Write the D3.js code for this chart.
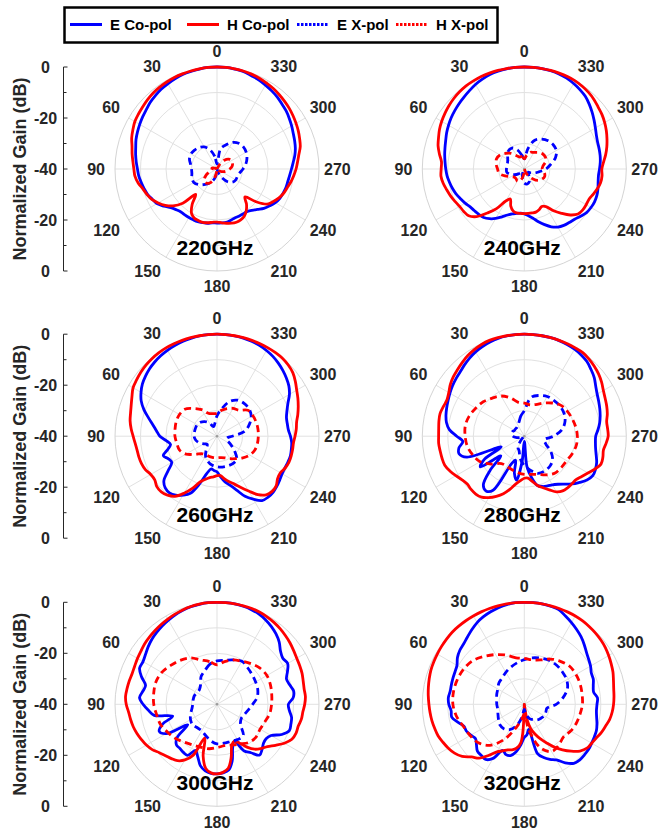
<!DOCTYPE html>
<html>
<head>
<meta charset="utf-8">
<script src="https://cdn.jsdelivr.net/npm/d3@7"></script>
<style>
body { margin: 0; background: #fff; }
svg { display: block; }
text { font-family: Arial, "Liberation Sans", sans-serif; font-weight: bold; }
</style>
</head>
<body>
<svg id="chart"></svg>
<script>
// angle grids (deg, counter-clockwise from top)
const angCo = d3.range(0, 360, 5)
const angX = d3.range(0, 360, 10)

const freqs = ["220GHz", "240GHz", "260GHz", "280GHz", "300GHz", "320GHz"]
const seriesNames = ["E Co-pol", "H Co-pol", "E X-pol", "H X-pol"]

// normalized gain (dB), co-pol every 5 deg
const e220co = [0, 0, -0.2, -0.4, -0.6, -1.0, -1.4, -1.8, -2.4, -3.0, -3.8, -4.4,
  -5.0, -5.6, -6.2, -7.0, -7.6, -8.2, -8.8, -9.2, -9.8, -10.4, -11.0, -12.0,
  -12.8, -14.6, -16.4, -17.4, -18, -18, -18, -18, -18, -18.2, -18.4, -18.8,
  -18.8, -18.8, -18.8, -19.2, -19.6, -19.6, -19.6, -19.6, -18.8, -17.6, -16, -14.8,
  -13.6, -12.8, -12.4, -12, -11.8, -11.4, -10.8, -10, -9, -8.2, -7.6, -7.0,
  -6.2, -5.4, -4.6, -4.0, -3.2, -2.6, -2.0, -1.4, -1.0, -0.4, -0.2, 0]
const h220co = [0, 0, -0.1, -0.2, -0.3, -0.4, -0.6, -0.8, -1.1, -1.5, -2.0, -2.4,
  -2.8, -3.6, -4.4, -5.5, -6.2, -6.9, -7.4, -7.7, -8.6, -9.9, -10.8, -11.8,
  -13.4, -15.2, -17.5, -21, -27, -23, -20, -18.8, -18.5, -18.3, -18.6, -19,
  -19.2, -18.8, -18.4, -18, -17.8, -18, -18.6, -20, -22, -24.5, -20, -16,
  -14.5, -13.2, -12.2, -11.5, -10.6, -9.8, -9.0, -8.3, -7.4, -6.2, -5.5, -4.8,
  -4.2, -3.6, -3.0, -2.5, -2.0, -1.5, -1.1, -0.7, -0.4, -0.2, -0.1, 0]
const e240co = [0, 0, -0.1, -0.3, -0.6, -1.1, -1.7, -2.5, -3.2, -3.8, -4.4, -5.0,
  -5.7, -6.4, -7.2, -7.8, -8.3, -8.8, -9.2, -9.6, -10.2, -10.8, -11.5, -12.4,
  -13.2, -14.1, -14.5, -14.8, -15.2, -16.2, -17.6, -19.3, -20.8, -21.8, -22.3, -22.6,
  -22.4, -21.6, -20.4, -18.6, -16.8, -15, -13.7, -13, -12.6, -12.1, -11.2, -10.2,
  -9.8, -9.6, -9.7, -10.1, -10.6, -10.8, -10.5, -10.1, -9.8, -9.6, -9.4, -8.8,
  -7.8, -6.6, -5.3, -4.0, -2.8, -2.0, -1.3, -0.7, -0.3, -0.1, 0, 0]
const h240co = [0, 0, 0, 0, 0, 0, -0.1, -0.2, -0.5, -0.9, -1.4, -2.0,
  -2.6, -3.3, -4.2, -5.0, -6.2, -7.4, -7.4, -7.2, -7.7, -8.5, -9.2, -10,
  -10.7, -11, -11.5, -13.6, -17.5, -21, -25.5, -27, -24.5, -23, -22.5, -22.5,
  -22.5, -22.5, -22.5, -22.5, -23, -23.8, -23, -20, -17.3, -14.5, -12.5, -12,
  -12, -12, -11.2, -10.3, -9.6, -9.4, -9.6, -8.8, -7.6, -6.5, -5.5, -4.5,
  -3.6, -2.8, -2.2, -1.4, -0.8, -0.4, -0.1, 0, 0, 0, 0, 0]
const e260co = [0, 0, -0.1, -0.3, -0.5, -0.8, -1.1, -1.5, -2.0, -2.6, -3.4, -4.3,
  -5.6, -7.2, -9.5, -12.2, -14.5, -16.2, -17.6, -20, -21.5, -20, -17.6, -19,
  -19.5, -16.7, -12.8, -11.3, -11, -11.8, -13.3, -15.3, -20.2, -25, -27, -26.5,
  -26, -24, -21.8, -20, -17.5, -14, -11.5, -9.2, -8.8, -8.9, -9.4, -10,
  -10.5, -10.6, -10.4, -10.2, -10.4, -10.6, -11.2, -11.9, -12, -11.8, -10.8, -9.3,
  -7.2, -5.6, -4.5, -3.5, -2.6, -1.8, -1.2, -0.7, -0.4, -0.2, -0.1, 0]
const h260co = [0, 0, 0, 0, 0, 0, 0, -0.1, -0.3, -0.6, -1.0, -1.5,
  -2.0, -3.2, -4.2, -4.9, -5.4, -6.2, -7.1, -7.8, -8.2, -8.3, -8.5, -9,
  -10, -10.2, -9.2, -9.1, -9.8, -11.2, -14.2, -17.5, -21, -22.5, -23.5, -24,
  -24.5, -24.5, -23, -21.5, -20, -17.8, -15.2, -12, -10, -9.4, -9.7, -11,
  -11.3, -10.5, -10, -9.9, -9.9, -9.9, -9.4, -8.8, -8.3, -7.2, -6.1, -5.0,
  -3.9, -2.5, -1.2, -0.5, -0.1, 0, 0, 0, 0, 0, 0, 0]
const e280co = [0, 0, -0.1, -0.3, -0.7, -1.2, -1.8, -2.6, -3.5, -4.4, -5.0, -5.6,
  -6.3, -7.0, -7.6, -8.2, -9.0, -10.5, -13.5, -15.8, -14, -13.5, -16, -30,
  -22, -19, -28, -21, -15, -13.8, -15.5, -28, -30, -25, -22.5, -30,
  -38, -28, -23.5, -20, -19, -18.5, -18, -17, -15.5, -13.5, -11.8, -10,
  -9.0, -9.2, -9.8, -10.8, -11.6, -12, -12, -11, -10, -9.2, -8.5, -7.8,
  -7.0, -5.8, -4.2, -3.0, -1.8, -1.1, -0.6, -0.3, -0.1, 0, 0, 0]
const h280co = [0, 0, 0, 0, 0, -0.3, -0.8, -1.4, -2.2, -3.0, -3.7, -4.6,
  -5.8, -6.5, -6.2, -5.8, -6.0, -6.3, -6.4, -6.3, -6.5, -6.6, -6.8, -7.8,
  -9, -10.2, -10.8, -10.5, -10.4, -10.8, -12.2, -14, -16, -18.5, -21, -22.5,
  -23.5, -23.5, -22, -20, -18.5, -16.8, -14.8, -13.8, -13.6, -13.6, -13.5, -12.5,
  -11.2, -9.5, -8, -8.1, -8.5, -7.8, -7.1, -7.2, -7.2, -6.3, -5.6, -5.0,
  -4.2, -3.0, -2.0, -1.2, -0.5, 0, 0, 0, 0, 0, 0, 0]
const e300co = [0, 0, -0.2, -0.4, -0.8, -1.3, -1.9, -2.5, -3.2, -3.9, -4.8, -5.8,
  -6.5, -6.5, -8.5, -11, -10.5, -9.5, -11, -13, -15, -22, -17.3, -15,
  -17, -26, -19.5, -17.5, -17.4, -17, -16.9, -20, -18, -15, -13.5, -12.8,
  -12.7, -13, -13.8, -17, -22, -24, -19, -16.8, -14, -15, -16.2, -16.5,
  -15.5, -12, -9.8, -10, -10.3, -11.5, -12, -10, -9.5, -10.5, -11, -9.5,
  -8, -8.5, -7.5, -5.5, -4, -2.8, -1.8, -1.0, -0.5, -0.2, 0, 0]
const h300co = [0, 0, -0.1, -0.3, -0.6, -1.0, -1.4, -1.8, -2.2, -2.6, -3.0, -3.6,
  -4.0, -4.4, -4.6, -4.4, -4.2, -4.0, -4.4, -5.2, -5.6, -6.0, -6.6, -7.3,
  -8.0, -9.0, -10.5, -11.5, -12.2, -13, -14.8, -18, -26, -19, -14.5, -13,
  -12.7, -13.2, -14.5, -18.5, -23, -24, -22.5, -19.5, -17, -15.5, -14.2, -12,
  -9.5, -7.6, -7.0, -7.0, -6.4, -6.2, -5.6, -5.2, -5.3, -5.0, -4.5, -4.2,
  -3.9, -3.3, -2.6, -2.0, -1.4, -0.9, -0.5, -0.2, 0, 0, 0, 0]
const e320co = [0, 0, -0.3, -0.8, -1.4, -2.1, -3.0, -4.2, -5.4, -6.4, -7.0, -8.0,
  -9.5, -10, -10.2, -10.4, -10.5, -10.1, -10.4, -11.2, -11.1, -13, -14.8, -15,
  -15.8, -16.6, -15.5, -14, -13.8, -13.6, -15.5, -20, -19, -19.2, -21, -24,
  -27, -28, -30, -20, -17.8, -16.2, -14.8, -12, -9.8, -9.2, -9.2, -9.2,
  -9.5, -9.7, -9.9, -10.5, -11.2, -11.6, -11.5, -11.2, -12.4, -12, -11.2, -11,
  -10, -9.2, -8.2, -6.8, -5.4, -4.2, -3.0, -1.8, -0.5, -0.2, 0, 0]
const h320co = [0, 0, 0, 0, 0, 0, 0, 0, 0, 0, -0.2, -0.4,
  -0.6, -0.8, -1.0, -1.4, -1.8, -2.2, -2.6, -2.9, -3.2, -3.6, -4.0, -4.8,
  -5.6, -6.6, -8.2, -10.8, -12.4, -15.5, -18.5, -19.8, -21, -21.5, -22.5, -25,
  -40, -40, -34, -30, -27.5, -25, -22.5, -19.5, -16.7, -14, -11.5, -10,
  -9.5, -8.8, -7.8, -7, -6, -5.4, -5.0, -4.7, -4.4, -3.8, -3.0, -2.4,
  -1.8, -1.2, -0.8, -0.5, -0.3, -0.1, 0, 0, 0, 0, 0, 0]

// cross-pol every 10 deg
const e220x = [-38, -35, -32, -30, -29, -28.5, -28.2, -28.5, -29.5, -30,
  -30, -29.5, -29.5, -30.5, -32, -33.5, -35, -37, -40, -40,
  -38, -36, -33.5, -32, -31.5, -31.5, -31, -29.8, -28.5, -27.5,
  -26.8, -26.5, -26.8, -28, -30, -32]
const h220x = [-40, -40, -40, -40, -40, -40, -40, -39, -38, -38,
  -38, -37, -35, -33.5, -33, -33.5, -35, -38, -40, -40,
  -40, -40, -40, -39, -38, -37, -36, -35, -34, -33.5,
  -33.5, -34, -35.5, -38, -40, -40]
const e240x = [-36, -34.5, -32, -30.5, -30.5, -31.5, -32.5, -33, -33, -33,
  -33, -34, -35.5, -37, -38.5, -39, -38, -36, -34.5, -34,
  -34.5, -36, -37.5, -38, -37, -35.5, -34, -31.5, -29.5, -27,
  -25.5, -25.2, -25.5, -26.5, -28, -32]
const h240x = [-36, -35, -35, -34, -32, -30.5, -29, -28.4, -28.8, -29.5,
  -30, -32, -34, -35, -35, -34.5, -35, -37, -39, -40,
  -39, -37, -35, -33, -32, -31.5, -32, -33, -32.5, -31,
  -30.5, -30.7, -31.5, -32.5, -33, -34.5]
const e260x = [-32, -35, -36, -34, -32.5, -31.5, -31, -31, -31, -31,
  -31.5, -32.5, -34, -35, -33.5, -31, -29.5, -28.5, -28, -27.7,
  -27.6, -27.6, -28, -31, -34, -36, -36, -34, -29, -26.5,
  -24.5, -23.5, -23.3, -23.7, -25.5, -29]
const h260x = [-31, -31, -30.5, -28, -25.8, -23.5, -23, -23, -23.3, -23.5,
  -24, -24.3, -26, -29, -31, -31.5, -31.5, -31.5, -31.5, -31.5,
  -31, -29.8, -28.5, -26.8, -25.2, -24.2, -23.9, -23.8, -23.7, -23.7,
  -23.8, -24.2, -26.7, -27.4, -28.5, -29.7]
const e280x = [-30, -32, -34, -35, -35.5, -35.5, -35.5, -35, -35, -35.5,
  -37, -38.5, -39.5, -39.5, -38, -35, -34, -31, -28.5, -26.5,
  -24.5, -24.2, -24.5, -25.5, -28, -31, -32, -28.5, -25, -23,
  -22, -21.7, -21.8, -22, -23, -24.5]
const h280x = [-27, -26.5, -24, -21.8, -20.5, -19, -18, -17, -16.5, -16.8,
  -17.3, -18.5, -20, -23, -26, -26.3, -26, -25.5, -25, -24.8,
  -24, -22.5, -21.2, -21, -20.8, -20, -19.3, -19.2, -19.5, -20,
  -20.5, -21.2, -23, -25, -26.8, -27.5]
const e300x = [-23, -24, -26, -27.5, -30, -31, -31, -30.5, -30.5, -30.5,
  -30, -29, -28, -27.5, -28, -28, -27, -25.5, -24.5, -24.5,
  -24.5, -24, -24, -28, -29, -28.5, -27.5, -26, -24, -23,
  -22.5, -22, -21.3, -20.5, -21.5, -22.5]
const h300x = [-24.5, -23, -21.5, -19, -17.5, -16.3, -15, -14.5, -14.8, -15.2,
  -16, -16.5, -17.8, -19, -20.5, -21.5, -22, -22.3, -23, -23.5,
  -23, -22, -20.5, -20, -20.5, -20, -19, -18.6, -18.2, -17.7,
  -17.4, -18, -19.2, -20.5, -21.5, -23]
const e320x = [-22.5, -23.5, -24.5, -25.5, -26.5, -27, -28, -28.5, -29, -29.2,
  -29.4, -29, -28.3, -27.5, -27.5, -28.5, -31, -35, -38, -36,
  -34, -33, -32, -31.5, -31, -31, -31, -27.5, -24.5, -22,
  -20.8, -20.4, -20.1, -20.2, -20.8, -21.5]
const h320x = [-22, -21.5, -19.5, -17.5, -15.5, -13.5, -12.5, -12, -11.8, -12,
  -13, -14.6, -15.5, -16.5, -19, -24, -30, -34, -36, -30,
  -22, -18.6, -19, -20, -19, -18.3, -17.8, -17.2, -17, -16.7,
  -16.6, -16.8, -18, -19.5, -21.5, -22.3]

const eCo = [e220co, e240co, e260co, e280co, e300co, e320co]
const hCo = [h220co, h240co, h260co, h280co, h300co, h320co]
const eX = [e220x, e240x, e260x, e280x, e300x, e320x]
const hX = [h220x, h240x, h260x, h280x, h300x, h320x]

const thetaTicks = [0, 30, 60, 90, 120, 150, 180, 210, 240, 270, 300, 330]
const rTicks = [-30, -20, -10]
const axisTicks = [0, 20, 40, 60, 80]     // position along the side axis
const axisLabels = ["0", "-20", "-40", "-20", "0"]

// layout
var width = 660
var height = 835
var R = 102
var colX = [217, 524.3]
var rowY = [169, 436.2, 704.3]

var svg = d3.select("#chart")
  .attr("width", width)
  .attr("height", height)

var rScale = d3.scaleLinear().domain([-40, 0]).range([0, R]).clamp(true)
var toRad = a => -a * Math.PI / 180

var radial = d3.lineRadial()
  .angle(d => toRad(d[0]))
  .radius(d => rScale(d[1]))
  .curve(d3.curveCatmullRomClosed.alpha(0.5))

var styles = [
  {color: "#0000ff", dash: null},
  {color: "#ff0000", dash: null},
  {color: "#0000ff", dash: "7,4.5"},
  {color: "#ff0000", dash: "7,4.5"}
]

freqs.forEach(function(f, i) {
  var cx = colX[i % 2], cy = rowY[Math.floor(i / 2)]
  var g = svg.append("g").attr("transform", "translate(" + cx + "," + cy + ")")

  // grid
  g.selectAll("circle.grid")
    .data(rTicks)
    .enter()
    .append("circle")
    .attr("r", d => rScale(d))
    .attr("fill", "none")
    .attr("stroke", "#e1e1e1")
    .attr("stroke-width", 1)
  g.selectAll("line.spoke")
    .data(thetaTicks)
    .enter()
    .append("line")
    .attr("x2", d => -R * Math.sin(d * Math.PI / 180))
    .attr("y2", d => -R * Math.cos(d * Math.PI / 180))
    .attr("stroke", "#e1e1e1")
    .attr("stroke-width", 1)
  g.append("circle")
    .attr("r", rScale(0))
    .attr("fill", "none")
    .attr("stroke", "#d4d4d4")
    .attr("stroke-width", 1)
  g.append("circle").attr("r", 1.3).attr("fill", "#9a9a9a")

  // angle labels (right side sits a little closer, as in the original)
  g.selectAll("text.theta")
    .data(thetaTicks)
    .enter()
    .append("text")
    .attr("x", d => -(d > 180 ? 107 : 112) * Math.sin(d * Math.PI / 180))
    .attr("y", d => -112 * Math.cos(d * Math.PI / 180))
    .attr("text-anchor", d => (d == 0 || d == 180) ? "middle" : (d < 180 ? "end" : "start"))
    .attr("dominant-baseline", d => (d == 90 || d == 270) ? "central" : (d < 90 || d > 270 ? "auto" : "hanging"))
    .attr("font-size", 16)
    .attr("fill", "#262626")
    .text(d => d)

  // curves
  var sets = [
    angCo.map((a, k) => [a, eCo[i][k]]),
    angCo.map((a, k) => [a, hCo[i][k]]),
    angX.map((a, k) => [a, eX[i][k]]),
    angX.map((a, k) => [a, hX[i][k]])
  ]
  sets.forEach(function(s, k) {
    g.append("path")
      .datum(s)
      .attr("d", radial)
      .attr("fill", "none")
      .attr("stroke", styles[k].color)
      .attr("stroke-width", 2.8)
      .attr("stroke-dasharray", styles[k].dash)
      .attr("stroke-linejoin", "round")
  })

  g.append("text")
    .attr("x", -2)
    .attr("y", 86)
    .attr("text-anchor", "middle")
    .attr("font-size", 21)
    .attr("fill", "#000")
    .text(f)

  // side axis on the left column
  if (i % 2 == 0) {
    var yPos = d3.scaleLinear().domain([0, 80]).range([cy - R, cy + R])
    var ax = svg.append("g").attr("transform", "translate(63.5,0)")
    ax.append("line")
      .attr("y1", yPos(0)).attr("y2", yPos(80))
      .attr("stroke", "#262626")
    ax.selectAll("line.tk")
      .data(d3.range(0, 81, 10))
      .enter()
      .append("line")
      .attr("y1", d => yPos(d)).attr("y2", d => yPos(d))
      .attr("x2", d => d % 20 == 0 ? 4 : 3)
      .attr("stroke", "#262626")
    ax.selectAll("text")
      .data(axisTicks)
      .enter()
      .append("text")
      .attr("x", -18)
      .attr("y", d => yPos(d))
      .attr("text-anchor", "middle")
      .attr("dominant-baseline", "central")
      .attr("font-size", 16)
      .attr("fill", "#262626")
      .text((d, k) => axisLabels[k])
    svg.append("text")
      .attr("transform", "translate(19.5," + cy + ") rotate(-90)")
      .attr("text-anchor", "middle")
      .attr("dominant-baseline", "central")
      .attr("font-size", 18)
      .attr("fill", "#262626")
      .text("Normalized Gain (dB)")
  }
})

// legend
var leg = svg.append("g")
leg.append("rect")
  .attr("x", 64.5).attr("y", 7.5)
  .attr("width", 433).attr("height", 35)
  .attr("fill", "#fff")
  .attr("stroke", "#000")
  .attr("stroke-width", 2.5)
var legX = [70, 187, 297, 396]
seriesNames.forEach(function(n, k) {
  leg.append("line")
    .attr("x1", legX[k]).attr("x2", legX[k] + 32)
    .attr("y1", 24.5).attr("y2", 24.5)
    .attr("stroke", styles[k].color)
    .attr("stroke-width", 3)
    .attr("stroke-dasharray", k > 1 ? "2.5,1.5" : null)
  leg.append("text")
    .attr("x", legX[k] + 40)
    .attr("y", 24.5)
    .attr("dominant-baseline", "central")
    .attr("font-size", 15)
    .attr("fill", "#000")
    .text(n)
})
</script>
</body>
</html>
